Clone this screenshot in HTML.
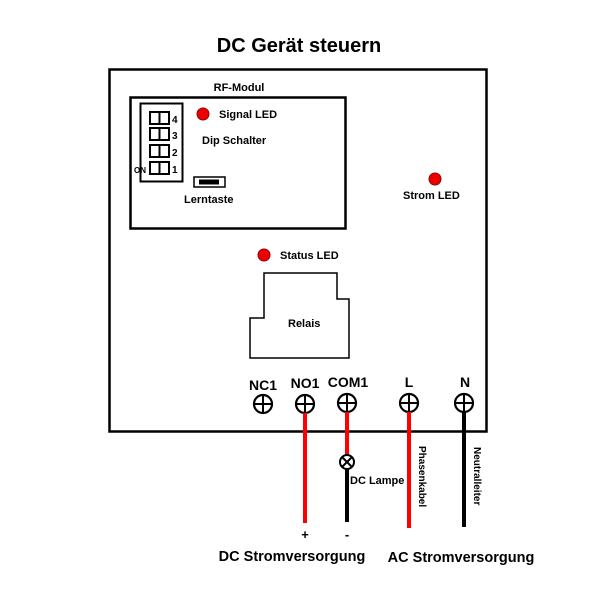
<!DOCTYPE html>
<html><head><style>body{margin:0;background:#fff}svg{display:block}text{font-family:"Liberation Sans",sans-serif;font-weight:bold;fill:#000}</style></head>
<body>
<svg width="600" height="600" viewBox="0 0 600 600">
<text x="299" y="52" font-size="20" text-anchor="middle">DC Gerät steuern</text>
<rect x="109.5" y="69.5" width="377" height="362" fill="none" stroke="#000" stroke-width="2.5"/>
<text x="239" y="91" font-size="11" text-anchor="middle">RF-Modul</text>
<rect x="130.5" y="97.5" width="215" height="131" fill="none" stroke="#000" stroke-width="2.5"/>
<rect x="140.5" y="103.5" width="42" height="78" fill="none" stroke="#000" stroke-width="2"/>
<g fill="none" stroke="#000" stroke-width="2">
<rect x="150" y="112" width="19" height="12"/><line x1="159.5" y1="112" x2="159.5" y2="124"/>
<rect x="150" y="128" width="19" height="12"/><line x1="159.5" y1="128" x2="159.5" y2="140"/>
<rect x="150" y="145" width="19" height="12"/><line x1="159.5" y1="145" x2="159.5" y2="157"/>
<rect x="150" y="162" width="19" height="12"/><line x1="159.5" y1="162" x2="159.5" y2="174"/>
</g>
<text x="172" y="123" font-size="10">4</text>
<text x="172" y="139" font-size="10">3</text>
<text x="172" y="156" font-size="10">2</text>
<text x="172" y="173" font-size="10">1</text>
<text x="134" y="173" font-size="8">ON</text>
<circle cx="203" cy="114" r="6" fill="#e00" stroke="#900" stroke-width="1"/>
<text x="219" y="118" font-size="11">Signal LED</text>
<text x="202" y="144" font-size="11">Dip Schalter</text>
<rect x="194" y="177" width="31" height="10" fill="none" stroke="#000" stroke-width="1.5"/>
<rect x="199" y="179.5" width="20" height="5" fill="#000"/>
<text x="184" y="203" font-size="11">Lerntaste</text>
<circle cx="435" cy="179" r="6" fill="#e00" stroke="#900" stroke-width="1"/>
<text x="403" y="199" font-size="11">Strom LED</text>
<circle cx="264" cy="255" r="6" fill="#e00" stroke="#900" stroke-width="1"/>
<text x="280" y="259" font-size="11">Status LED</text>
<polygon points="250,318 264,318 264,273 337,273 337,299 349,299 349,358 250,358" fill="none" stroke="#000" stroke-width="1.5"/>
<text x="288" y="327" font-size="11">Relais</text>
<g font-size="14" text-anchor="middle">
<text x="263" y="390">NC1</text><text x="305" y="388">NO1</text><text x="348" y="387">COM1</text><text x="409" y="387">L</text><text x="465" y="387">N</text>
</g>
<g fill="#fff" stroke="#000" stroke-width="2.2">
<circle cx="263" cy="404" r="9"/><circle cx="305" cy="404" r="9"/><circle cx="347" cy="403" r="9"/><circle cx="409" cy="403" r="9"/><circle cx="464" cy="403" r="9"/>
</g>
<g stroke="#000" stroke-width="2">
<path d="M254 404h18M263 395v18M296 404h18M305 395v18M338 403h18M347 394v18M400 403h18M409 394v18M455 403h18M464 394v18"/>
</g>
<g stroke-width="4">
<line x1="305" y1="413" x2="305" y2="523" stroke="#f00"/>
<line x1="347" y1="412" x2="347" y2="455" stroke="#f00"/>
<line x1="347" y1="469" x2="347" y2="522" stroke="#000"/>
<line x1="409" y1="412" x2="409" y2="528" stroke="#f00"/>
<line x1="464" y1="412" x2="464" y2="527" stroke="#000"/>
</g>
<circle cx="347" cy="462" r="7" fill="#fff" stroke="#000" stroke-width="2"/>
<path d="M342 457l10 10M352 457l-10 10" stroke="#000" stroke-width="2"/>
<text x="350" y="484" font-size="11">DC Lampe</text>
<text font-size="10" transform="translate(419,446) rotate(90)">Phasenkabel</text>
<text font-size="10" transform="translate(474,447) rotate(90)">Neutralleiter</text>
<text x="305" y="539" font-size="13" text-anchor="middle">+</text>
<text x="347" y="539" font-size="13" text-anchor="middle">-</text>
<text x="292" y="561" font-size="14.5" text-anchor="middle">DC Stromversorgung</text>
<text x="461" y="562" font-size="14.5" text-anchor="middle">AC Stromversorgung</text>
</svg>
</body></html>
